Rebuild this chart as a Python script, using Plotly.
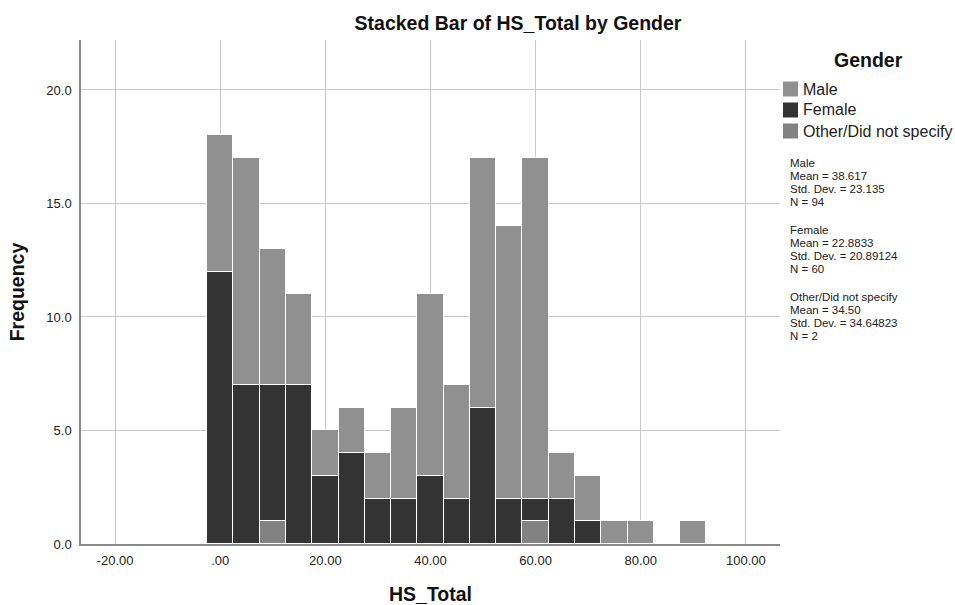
import plotly.graph_objects as go

# Histogram bins (HS_Total), width 5
bin_centers = [0, 5, 10, 15, 20, 25, 30, 35, 40, 45, 50, 55, 60, 65, 70, 75, 80, 85, 90]
bin_width = 5

# Counts per bin for each gender
male_counts = [6, 10, 6, 4, 2, 2, 2, 4, 8, 5, 11, 12, 15, 2, 2, 1, 1, 0, 1]
female_counts = [12, 7, 6, 7, 3, 4, 2, 2, 3, 2, 6, 2, 1, 2, 1, 0, 0, 0, 0]
other_counts = [0, 0, 1, 0, 0, 0, 0, 0, 0, 0, 0, 0, 1, 0, 0, 0, 0, 0, 0]

series_names = ["Male", "Female", "Other/Did not specify"]
series_colors = {"Male": "#909090", "Female": "#333333", "Other/Did not specify": "#828282"}

# Summary statistics printed beside the chart
stats_blocks = [
    ["Male", "Mean = 38.617", "Std. Dev. = 23.135", "N = 94"],
    ["Female", "Mean = 22.8833", "Std. Dev. = 20.89124", "N = 60"],
    ["Other/Did not specify", "Mean = 34.50", "Std. Dev. = 34.64823", "N = 2"],
]

x_tick_vals = [-20, 0, 20, 40, 60, 80, 100]
x_tick_text = ["-20.00", ".00", "20.00", "40.00", "60.00", "80.00", "100.00"]
y_tick_vals = [0, 5, 10, 15, 20]
y_tick_text = ["0.0", "5.0", "10.0", "15.0", "20.0"]

FONT = "Arial, Liberation Sans, sans-serif"
W, H = 955, 605
L, R, T, B = 80.7, 780.0, 40.0, 544.0


def px2x(px):
    return (px - L) / (R - L)


def py2y(py):
    return (B - py) / (B - T)


def nz(vals):
    return [v if v else None for v in vals]


fig = go.Figure()
# stacking order from the bottom: Other, Female, Male
for name, counts in [("Other/Did not specify", other_counts),
                     ("Female", female_counts),
                     ("Male", male_counts)]:
    fig.add_trace(go.Bar(
        x=bin_centers, y=nz(counts), name=name, width=bin_width,
        marker=dict(color=series_colors[name], line=dict(color="white", width=1.2)),
        showlegend=False,
    ))

fig.update_layout(
    width=W, height=H,
    margin=dict(l=L, r=W - R, t=T, b=H - B, pad=0, autoexpand=False),
    barmode="stack",
    bargap=0,
    plot_bgcolor="white",
    paper_bgcolor="white",
    font=dict(family=FONT, color="#222222", size=13),
    title=dict(text="<b>Stacked Bar of HS_Total by Gender</b>",
               x=518 / W, xanchor="center", y=1 - 23 / H, yanchor="middle",
               font=dict(size=19.5, color="#111111", family=FONT)),
)

fig.update_xaxes(
    range=[-26.5, 106.5], tickvals=x_tick_vals, ticktext=x_tick_text,
    showgrid=True, gridcolor="#c8c8c8", gridwidth=1, zeroline=False,
    showline=True, linecolor="#8a8a8a", linewidth=1.5, ticks="",
    tickfont=dict(size=13, color="#222222"), ticklabelstandoff=4,
    automargin=False,
    title=dict(text="<b>HS_Total</b>", font=dict(size=19.5, color="#111111"), standoff=24),
)
fig.update_yaxes(
    range=[0, 22.2], tickvals=y_tick_vals, ticktext=y_tick_text,
    showgrid=True, gridcolor="#c8c8c8", gridwidth=1, zeroline=False,
    showline=True, linecolor="#8a8a8a", linewidth=1.5, ticks="",
    tickfont=dict(size=13, color="#222222"), ticklabelstandoff=5,
    automargin=False,
    title=dict(text="<b>Frequency</b>", font=dict(size=19.5, color="#111111"), standoff=17),
)

# Legend: title, swatches and labels
fig.add_annotation(text="<b>Gender</b>", x=px2x(869), y=py2y(60), xref="paper", yref="paper",
                   showarrow=False, xanchor="center", yanchor="middle",
                   font=dict(size=19.5, color="#111111", family=FONT))
for i, name in enumerate(series_names):
    cy = 89 + 21 * i
    fig.add_shape(type="rect", xref="paper", yref="paper",
                  x0=px2x(783), x1=px2x(798), y0=py2y(cy + 7.5), y1=py2y(cy - 7.5),
                  fillcolor=series_colors[name], line=dict(width=0))
    fig.add_annotation(text=name, x=px2x(801), y=py2y(cy), xref="paper", yref="paper",
                       showarrow=False, xanchor="left", yanchor="middle",
                       font=dict(size=16, color="#222222", family=FONT))

# Summary statistics, one line per annotation
for b, block in enumerate(stats_blocks):
    for j, line in enumerate(block):
        cy = 163 + 67 * b + 13 * j
        fig.add_annotation(text=line, x=px2x(789), y=py2y(cy), xref="paper", yref="paper",
                           showarrow=False, xanchor="left", yanchor="middle", borderpad=0,
                           font=dict(size=11.5, color="#222222", family=FONT))

fig.write_html("out.html")
